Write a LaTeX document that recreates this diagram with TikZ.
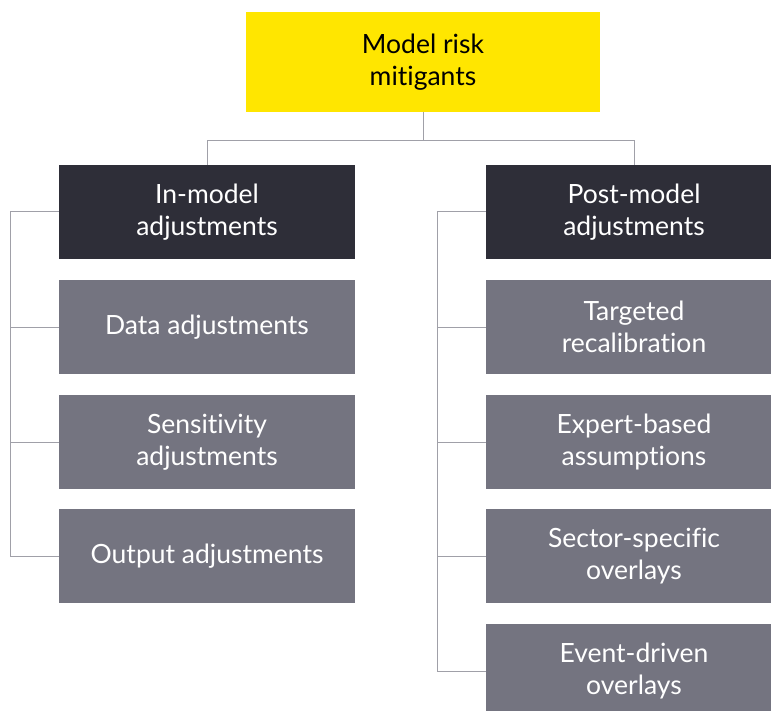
\documentclass[tikz,border=0pt]{standalone}
\usepackage{fontspec}
\setmainfont{Lato}[Ligatures={NoCommon}]
\usepackage{tikz}

\definecolor{eyyellow}{HTML}{FFE600}
\definecolor{eydark}{HTML}{2E2E38}
\definecolor{eygrey}{HTML}{747480}
\definecolor{linkgrey}{HTML}{A0A0A8}

\begin{document}
\begin{tikzpicture}[x=1pt,y=-1pt,
    box/.style={minimum width=296pt,minimum height=94pt,inner sep=0pt,
      align=center,font=\fontsize{26.5}{32}\selectfont},
    root/.style={box,fill=eyyellow,minimum width=354pt,minimum height=100pt,text=black},
    head/.style={box,fill=eydark,text=white},
    leaf/.style={box,fill=eygrey,text=white},
    link/.style={draw=linkgrey,line width=1pt}]
  \useasboundingbox (0,0) rectangle (771,711);
  % top of the tree
  \node[root] (risk) at (423,62) {Model risk\\mitigants};
  \node[head] (inm)  at (207,212) {In-model\\adjustments};
  \node[head] (post) at (634,212) {Post-model\\adjustments};
  % in-model column
  \node[leaf] (data) at (207,327) {Data adjustments};
  \node[leaf] (sens) at (207,442) {Sensitivity\\adjustments};
  \node[leaf] (outp) at (207,556) {Output adjustments};
  % post-model column
  \node[leaf] (recal) at (634,327) {Targeted\\recalibration};
  \node[leaf] (exprt) at (634,442) {Expert-based\\assumptions};
  \node[leaf] (sect)  at (634,556) {Sector-specific\\overlays};
  \node[leaf] (event) at (634,671) {Event-driven\\overlays};
  % connectors
  \draw[link] (risk.south) -- ++(0,28) -| (inm.north);
  \draw[link] (risk.south) -- ++(0,28) -| (post.north);
  \foreach \n in {data,sens,outp}
    \draw[link] (inm.west) -- ++(-48,0) |- (\n.west);
  \foreach \n in {recal,exprt,sect,event}
    \draw[link] (post.west) -- ++(-48,0) |- (\n.west);
\end{tikzpicture}
\end{document}
